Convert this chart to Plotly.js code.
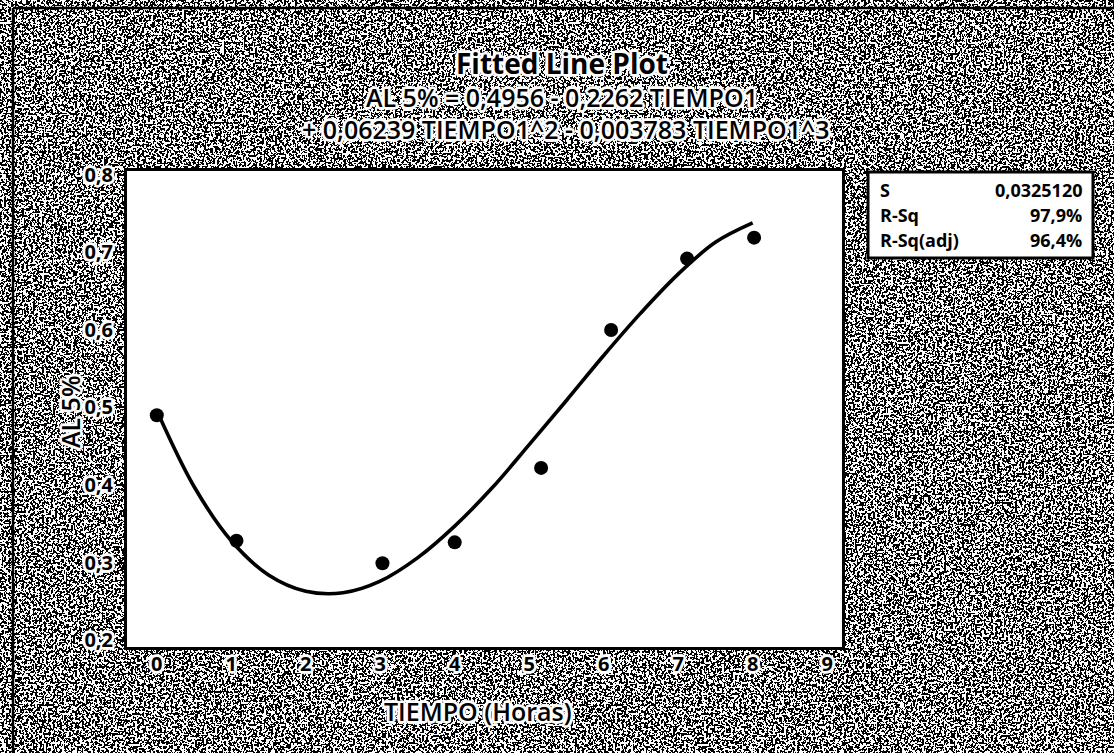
<!DOCTYPE html>
<html>
<head>
<meta charset="utf-8">
<script src="https://cdn.plot.ly/plotly-3.0.1.min.js"></script>
<style>
  html, body { margin: 0; padding: 0; background: #ffffff; }
  #wrap { position: relative; width: 1114px; height: 753px; }
  #noise { position: absolute; left: 0; top: 0; }
  #chart { position: absolute; left: 0; top: 0; width: 1114px; height: 753px; }
</style>
</head>
<body>
<div id="wrap">
  <svg id="noise" width="1114" height="753" xmlns="http://www.w3.org/2000/svg">
    <filter id="grain" x="0" y="0" width="100%" height="100%">
      <feTurbulence type="fractalNoise" baseFrequency="0.45" numOctaves="2" seed="7"/>
      <feColorMatrix type="saturate" values="0"/>
      <feComponentTransfer>
        <feFuncR type="discrete" tableValues="0 1"/>
        <feFuncG type="discrete" tableValues="0 1"/>
        <feFuncB type="discrete" tableValues="0 1"/>
        <feFuncA type="linear" slope="0" intercept="1"/>
      </feComponentTransfer>
    </filter>
    <rect width="1114" height="753" fill="#808080" filter="url(#grain)"/>
  </svg>
  <div id="chart"></div>
</div>
<script>
// Observed data (TIEMPO in hours, AL 5%)
const tiempo = [0, 1.07, 3.03, 4.0, 5.16, 6.1, 7.12, 8.02];
const al5 = [0.490, 0.328, 0.299, 0.326, 0.422, 0.600, 0.692, 0.719];

// Fitted cubic line
const fitX = [0, 0.5, 1, 1.5, 2, 2.5, 3, 3.5, 4, 4.5, 5, 5.5, 6, 6.5, 7, 7.5, 8];
const fitY = [0.496, 0.398, 0.328, 0.284, 0.263, 0.261, 0.276, 0.306, 0.347, 0.396, 0.452, 0.509, 0.567, 0.622, 0.672, 0.713, 0.738];

const xTicks = [0, 1, 2, 3, 4, 5, 6, 7, 8, 9];
const yTicks = [0.2, 0.3, 0.4, 0.5, 0.6, 0.7, 0.8];

const statLabels = ["S", "R-Sq", "R-Sq(adj)"];
const statValues = ["0,0325120", "97,9%", "96,4%"];

const titleText = "Fitted Line Plot";
const eqLine1 = "AL 5% = 0,4956 - 0,2262 TIEMPO1";
const eqLine2 = "+ 0,06239 TIEMPO1^2 - 0,003783 TIEMPO1^3";
const xTitle = "TIEMPO (Horas)";
const yTitle = "AL 5%";

const FONT = "Open Sans, Liberation Sans, sans-serif";
const HALO = [
  "2px 0 0 #fff", "-2px 0 0 #fff", "0 2px 0 #fff", "0 -2px 0 #fff",
  "2px 2px 0 #fff", "-2px -2px 0 #fff", "2px -2px 0 #fff", "-2px 2px 0 #fff",
  "3px 0 1px #fff", "-3px 0 1px #fff", "0 3px 1px #fff", "0 -3px 1px #fff"
].join(", ");

const traces = [
  {
    x: fitX, y: fitY, type: "scatter", mode: "lines",
    line: { color: "#000000", width: 3.6, shape: "spline", smoothing: 1 },
    hoverinfo: "skip", showlegend: false
  },
  {
    x: tiempo, y: al5, type: "scatter", mode: "markers",
    marker: { color: "#000000", size: 14, symbol: "circle" },
    showlegend: false
  }
];

// paper-coordinate helpers (plot area: x 127..842, y 171..647)
const L = 127, R = 842, T = 171, B = 647;
const px = v => (v - L) / (R - L);
const py = v => (B - v) / (B - T);

const tfont = (size, weight) => ({ family: FONT, size: size, color: "#000", weight: weight, shadow: HALO });

const annotations = [
  { text: "<b>" + titleText + "</b>", x: px(562), y: py(63), xref: "paper", yref: "paper",
    showarrow: false, xanchor: "center", yanchor: "middle", font: tfont(28, 700) },
  { text: eqLine1, x: px(562), y: py(97), xref: "paper", yref: "paper",
    showarrow: false, xanchor: "center", yanchor: "middle", font: tfont(25, 600) },
  { text: eqLine2, x: px(566), y: py(129), xref: "paper", yref: "paper",
    showarrow: false, xanchor: "center", yanchor: "middle", font: tfont(25, 600) },
  { text: yTitle, x: px(70), y: py(412), xref: "paper", yref: "paper", textangle: -90,
    showarrow: false, xanchor: "center", yanchor: "middle", font: tfont(25, 600) },
  { text: xTitle, x: px(478), y: py(711), xref: "paper", yref: "paper",
    showarrow: false, xanchor: "center", yanchor: "middle", font: tfont(25, 600) }
];
const rowY = [190, 215, 240];
statLabels.forEach((s, i) => {
  annotations.push({ text: s, x: px(878), y: py(rowY[i]), xref: "paper", yref: "paper",
    showarrow: false, xanchor: "left", yanchor: "middle", font: { family: FONT, size: 18, color: "#000", weight: 700 } });
  annotations.push({ text: statValues[i], x: px(1084), y: py(rowY[i]), xref: "paper", yref: "paper",
    showarrow: false, xanchor: "right", yanchor: "middle", font: { family: FONT, size: 18, color: "#000", weight: 700 } });
});

const shapes = [
  { type: "line", xref: "paper", yref: "paper", x0: px(13), x1: px(1114), y0: py(8), y1: py(8),
    line: { color: "#000", width: 2.5 }, layer: "below" },
  { type: "line", xref: "paper", yref: "paper", x0: px(13), x1: px(13), y0: py(8), y1: py(753),
    line: { color: "#000", width: 2.5 }, layer: "below" },
  { type: "rect", xref: "paper", yref: "paper", x0: px(868), x1: px(1093), y0: py(258), y1: py(172),
    line: { color: "#000", width: 3 }, fillcolor: "#ffffff", layer: "below" }
];

const layout = {
  width: 1114, height: 753,
  margin: { l: L, r: 1114 - R, t: T, b: 753 - B, pad: 0 },
  paper_bgcolor: "rgba(0,0,0,0)",
  plot_bgcolor: "#ffffff",
  separators: ",.",
  font: { family: FONT, color: "#000" },
  showlegend: false,
  xaxis: {
    range: [-0.4, 9.2], tickvals: xTicks, ticktext: xTicks.map(String),
    ticks: "outside", ticklen: 7, tickwidth: 2, tickcolor: "#000",
    ticklabelstandoff: -10,
    showline: true, linecolor: "#000", linewidth: 3, mirror: true,
    showgrid: false, zeroline: false,
    tickfont: tfont(20, 700)
  },
  yaxis: {
    range: [0.191, 0.805], tickvals: yTicks, tickformat: ".1f",
    ticks: "outside", ticklen: 7, tickwidth: 2, tickcolor: "#000",
    showline: true, linecolor: "#000", linewidth: 3, mirror: true,
    showgrid: false, zeroline: false,
    tickfont: tfont(20, 700)
  },
  annotations: annotations,
  shapes: shapes
};

Plotly.newPlot("chart", traces, layout, { displayModeBar: false, staticPlot: true });
</script>
</body>
</html>
